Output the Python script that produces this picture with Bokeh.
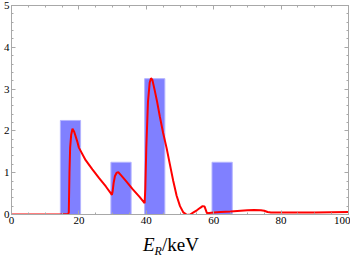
from bokeh.plotting import figure
from bokeh.models import LinearAxis, Range1d, FixedTicker, CustomJSTickFormatter, Div
from bokeh.layouts import column
from bokeh.embed import file_html
from bokeh.resources import INLINE

# ---- data ----
bar_centers = [17.5, 32.5, 42.5, 62.5]
bar_heights = [2.25, 1.25, 3.25, 1.25]

curve_x = [0, 5, 10, 15, 16.8, 17.0, 17.2, 17.4, 17.7, 18.1, 18.6, 19.5, 20.0, 22, 24, 26, 28, 29.8,
           30.0, 30.3, 30.7, 31.2, 31.7, 32.6, 34, 36, 38, 39.5,
           39.7, 40.0, 40.5, 41.0, 41.4, 41.8, 42.5, 43.2, 44, 45, 46, 47, 48, 49, 50, 51, 52, 53,
           54, 55, 56, 56.7, 57.3, 57.7, 58.0, 60, 62, 65, 68, 70, 72, 74, 75, 76, 77, 80, 90, 100]
curve_y = [0.0, 0.0, 0.0, 0.005, 0.01, 0.05, 1.0, 1.6, 1.9, 2.05, 1.98, 1.75, 1.6, 1.3, 1.08, 0.87, 0.67, 0.47,
           0.55, 0.75, 0.92, 1.0, 1.01, 0.93, 0.8, 0.6, 0.42, 0.27,
           0.6, 1.6, 2.7, 3.15, 3.26, 3.22, 2.97, 2.7, 2.35, 1.95, 1.6, 1.2, 0.8, 0.45, 0.2, 0.05, -0.01, 0.0,
           0.05, 0.1, 0.16, 0.2, 0.19, 0.1, 0.03, 0.05, 0.06, 0.07, 0.09, 0.1, 0.11, 0.1, 0.09, 0.06, 0.05, 0.05, 0.05, 0.06]

x_ticks = [0, 20, 40, 60, 80, 100]
y_ticks = [0, 1, 2, 3, 4, 5]
x_minor = [v for v in range(0, 101, 5)]
y_minor = [i * 0.2 for i in range(0, 26)]
x_label_html = ('<i>E</i><sub style="font-size:12px;vertical-align:-4px"><i>R</i></sub>/keV')

FONT = "'Liberation Serif', serif"
FRAME = "#a8a8a8"

p = figure(width=350, height=232, x_range=Range1d(0, 100), y_range=Range1d(0, 5),
           output_backend="svg", toolbar_location=None,
           x_axis_location=None, y_axis_location=None,
           min_border_left=0, min_border_right=2, min_border_top=5, min_border_bottom=18)
p.outline_line_color = FRAME
p.xgrid.visible = False
p.ygrid.visible = False
p.background_fill_color = "white"
p.border_fill_color = "white"


def style(ax, labels):
    ax.axis_line_color = FRAME
    ax.major_tick_line_color = FRAME
    ax.minor_tick_line_color = FRAME
    ax.major_tick_in = 4
    ax.major_tick_out = 0
    ax.minor_tick_in = 2
    ax.minor_tick_out = 0
    if labels:
        ax.major_label_text_font = FONT
        ax.major_label_text_font_size = "11px"
        ax.major_label_text_color = "black"
        ax.major_label_standoff = 2
    else:
        ax.formatter = CustomJSTickFormatter(code="return ''")
        ax.major_label_standoff = 0


bottom = LinearAxis(ticker=FixedTicker(ticks=x_ticks, minor_ticks=x_minor))
top = LinearAxis(ticker=FixedTicker(ticks=x_ticks, minor_ticks=x_minor))
left = LinearAxis(ticker=FixedTicker(ticks=y_ticks, minor_ticks=y_minor))
right = LinearAxis(ticker=FixedTicker(ticks=y_ticks, minor_ticks=y_minor))
style(bottom, True)
style(left, True)
style(top, False)
style(right, False)
p.add_layout(bottom, "below")
p.add_layout(left, "left")
p.add_layout(top, "above")
p.add_layout(right, "right")

p.vbar(x=bar_centers, top=bar_heights, bottom=0, width=6.0,
       fill_color="#8080ff", line_color="#b4b4ff", line_width=1)
p.line(curve_x, curve_y, line_color="red", line_width=2)

div = Div(text=x_label_html, width=120, height=24, margin=(3, 0, 0, 143),
          styles={"font-family": "'Liberation Serif', serif", "font-size": "19px",
                  "color": "black", "line-height": "20px", "white-space": "nowrap"})

layout = column(p, div, spacing=0)
open("out.html", "w").write(file_html(layout, INLINE))
